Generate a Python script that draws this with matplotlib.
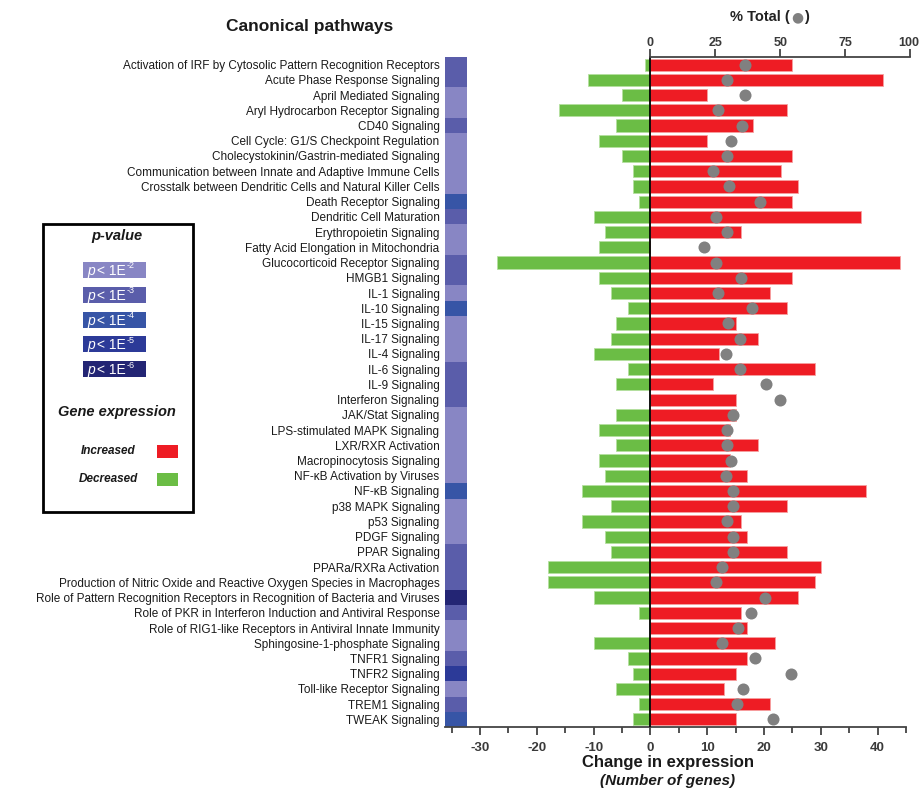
import matplotlib
matplotlib.use("Agg")
import matplotlib.pyplot as plt
from matplotlib.patches import Rectangle
import numpy as np

plt.rcParams['font.family'] = ['Liberation Sans', 'DejaVu Sans']
plt.rcParams['axes.unicode_minus'] = False

pathways = [
    "Activation of IRF by Cytosolic Pattern Recognition Receptors",
    "Acute Phase Response Signaling",
    "April Mediated Signaling",
    "Aryl Hydrocarbon Receptor Signaling",
    "CD40 Signaling",
    "Cell Cycle: G1/S Checkpoint Regulation",
    "Cholecystokinin/Gastrin-mediated Signaling",
    "Communication between Innate and Adaptive Immune Cells",
    "Crosstalk between Dendritic Cells and Natural Killer Cells",
    "Death Receptor Signaling",
    "Dendritic Cell Maturation",
    "Erythropoietin Signaling",
    "Fatty Acid Elongation in Mitochondria",
    "Glucocorticoid Receptor Signaling",
    "HMGB1 Signaling",
    "IL-1 Signaling",
    "IL-10 Signaling",
    "IL-15 Signaling",
    "IL-17 Signaling",
    "IL-4 Signaling",
    "IL-6 Signaling",
    "IL-9 Signaling",
    "Interferon Signaling",
    "JAK/Stat Signaling",
    "LPS-stimulated MAPK Signaling",
    "LXR/RXR Activation",
    "Macropinocytosis Signaling",
    "NF-κB Activation by Viruses",
    "NF-κB Signaling",
    "p38 MAPK Signaling",
    "p53 Signaling",
    "PDGF Signaling",
    "PPAR Signaling",
    "PPARa/RXRa Activation",
    "Production of Nitric Oxide and Reactive Oxygen Species in Macrophages",
    "Role of Pattern Recognition Receptors in Recognition of Bacteria and Viruses",
    "Role of PKR in Interferon Induction and Antiviral Response",
    "Role of RIG1-like Receptors in Antiviral Innate Immunity",
    "Sphingosine-1-phosphate Signaling",
    "TNFR1 Signaling",
    "TNFR2 Signaling",
    "Toll-like Receptor Signaling",
    "TREM1 Signaling",
    "TWEAK Signaling",
]

decreased = [-1, -11, -5, -16, -6, -9, -5, -3, -3, -2, -10, -8, -9, -27, -9, -7, -4, -6, -7, -10, -4, -6,
             0, -6, -9, -6, -9, -8, -12, -7, -12, -8, -7, -18, -18, -10, -2, 0, -10, -4, -3, -6, -2, -3]
increased = [25, 41, 10, 24, 18, 10, 25, 23, 26, 25, 37, 16, 0, 44, 25, 21, 24, 15, 19, 12, 29, 11,
             15, 15, 14, 19, 14, 17, 38, 24, 16, 17, 24, 30, 29, 26, 16, 17, 22, 17, 15, 13, 21, 15]
pct_total = [36.2, 29.5, 36.2, 26, 35.3, 30.9, 29.5, 24, 30.1, 42.3, 25.3, 29.5, 20.5, 25.3, 35, 26,
             39.2, 29.9, 34.6, 29.1, 34.6, 44.5, 49.9, 31.7, 29.5, 29.5, 30.9, 29.1, 31.7, 31.7, 29.5,
             31.7, 31.7, 27.6, 25.3, 44, 38.8, 33.7, 27.6, 40.1, 54, 35.5, 33.3, 47]
# p-value level: 1 -> p<1E-2 ... 5 -> p<1E-6
p_level = [2, 2, 1, 1, 2, 1, 1, 1, 1, 3, 2, 1, 1, 2, 2, 1, 3, 1, 1, 1, 2, 2,
           2, 1, 1, 1, 1, 1, 3, 1, 1, 1, 2, 2, 2, 5, 2, 1, 1, 2, 4, 1, 2, 3]
p_labels = ["-2", "-3", "-4", "-5", "-6"]
p_colors = ["#8886c4", "#5a5daa", "#3755a6", "#2c3a98", "#232574"]
top_ticks = [0, 25, 50, 75, 100]

red = "#ee1c24"
green = "#6bbd45"
dot_grey = "#808080"
tick_col = "#3a3a3a"

fig = plt.figure(figsize=(9.19, 7.88), dpi=100)
ax = fig.add_axes([445 / 919, 1 - 727 / 788, 466 / 919, 670 / 788])

y = np.arange(len(pathways))
xmin, xmax = -36.15, 45.87
k = 0.4577  # change units per % total

ax.barh(y, [3.93] * len(y), left=xmin, height=1.0,
        color=[p_colors[l - 1] for l in p_level], zorder=2)
ax.barh(y, decreased, height=0.8, color=green, edgecolor="#b5e09f", linewidth=0.6, zorder=2)
ax.barh(y, increased, height=0.8, color=red, edgecolor="#f7a0a0", linewidth=0.6, zorder=2)
ax.axvline(0, color="black", lw=1.3, zorder=3)

ax.set_xlim(xmin, xmax)
ax.set_ylim(len(y) - 0.5, -0.5)
ax.set_yticks(y)
ax.set_yticklabels(pathways, fontsize=8.5, color="#1a1a1a")
ax.tick_params(axis="y", length=0, pad=4)
ax.set_xticks(np.arange(-30, 41, 10))
ax.set_xticks(np.arange(-35, 46, 5), minor=True)
ax.tick_params(axis="x", which="both", colors="#333333", width=1.2, labelsize=9.5, pad=5)
ax.tick_params(axis="x", which="major", length=6)
ax.tick_params(axis="x", which="minor", length=4)
for lab in ax.get_xticklabels():
    lab.set_fontweight("bold")
    lab.set_color(tick_col)
for s in ["top", "right", "left"]:
    ax.spines[s].set_visible(False)
ax.spines["bottom"].set_bounds(xmin, 45.0)
ax.spines["bottom"].set_linewidth(1.3)
ax.spines["bottom"].set_color("#444444")

ax2 = ax.twiny()
ax2.set_xlim(xmin / k, xmax / k)
ax2.scatter(pct_total, y, s=75, color=dot_grey, zorder=5, linewidths=0)
ax2.set_ylim(ax.get_ylim())
ax2.set_xticks(top_ticks)
ax2.set_xticklabels([])
ax2.tick_params(axis="x", colors="#333333", width=1.2, length=6)
for t in top_ticks:
    xt = min(t, 99.2)
    ax2.text(xt, 1.021, str(t), transform=ax2.get_xaxis_transform(), ha="center", va="center",
             fontsize=9, fontweight="bold", color=tick_col)
for s in ["bottom", "right", "left"]:
    ax2.spines[s].set_visible(False)
ax2.spines["top"].set_bounds(0, 100)
ax2.spines["top"].set_linewidth(1.3)
ax2.spines["top"].set_color("#444444")

fig.text(790 / 919, 1 - 17 / 788, "% Total (", ha="right", va="center", fontsize=10.5, fontweight="bold", color="#222222")
fig.text(797 / 919, 1 - 17 / 788, "●", ha="center", va="center", fontsize=10, color=dot_grey, family="DejaVu Sans")
fig.text(804 / 919, 1 - 17 / 788, ")", ha="left", va="center", fontsize=10.5, fontweight="bold", color="#222222")

fig.text(310 / 919, 1 - 27 / 788, "Canonical pathways", ha="center", va="center", fontsize=12.5, fontweight="bold", color="#1a1a1a")
fig.text(668 / 919, 1 - 763 / 788, "Change in expression", ha="center", va="center", fontsize=12, fontweight="bold", color="#1a1a1a")
fig.text(668 / 919, 1 - 781 / 788, "(Number of genes)", ha="center", va="center", fontsize=11, fontweight="bold", style="italic", color="#1a1a1a")

# legend box
fig.patches.append(Rectangle((43 / 919, 1 - 512 / 788), 150 / 919, 288 / 788, transform=fig.transFigure,
                             fill=False, edgecolor="black", linewidth=2))
fig.text(117 / 919, 1 - 236 / 788, "p-value", ha="center", va="center", fontsize=10.5, fontweight="bold", style="italic", color="#1a1a1a")
for i, (lab, col) in enumerate(zip(p_labels, p_colors)):
    yc = 270 + i * 24.8
    fig.patches.append(Rectangle((83 / 919, 1 - (yc + 8) / 788), 63 / 919, 16 / 788, transform=fig.transFigure,
                                 facecolor=col, edgecolor="none"))
    fig.text(87 / 919, 1 - (yc + 1) / 788, "p", ha="left", va="center", fontsize=10, style="italic", color="white")
    fig.text(97 / 919, 1 - (yc + 1) / 788, "< 1E", ha="left", va="center", fontsize=10, color="white")
    fig.text(127 / 919, 1 - (yc - 4) / 788, lab, ha="left", va="center", fontsize=6.5, color="white")
fig.text(117 / 919, 1 - 412 / 788, "Gene expression", ha="center", va="center", fontsize=10.5, fontweight="bold", style="italic", color="#1a1a1a")
fig.text(108 / 919, 1 - 451 / 788, "Increased", ha="center", va="center", fontsize=8.5, fontweight="bold", style="italic", color="#1a1a1a")
fig.text(108 / 919, 1 - 479 / 788, "Decreased", ha="center", va="center", fontsize=8.5, fontweight="bold", style="italic", color="#1a1a1a")
fig.patches.append(Rectangle((157 / 919, 1 - 458 / 788), 21 / 919, 13 / 788, transform=fig.transFigure, facecolor=red, edgecolor="none"))
fig.patches.append(Rectangle((157 / 919, 1 - 486 / 788), 21 / 919, 13 / 788, transform=fig.transFigure, facecolor=green, edgecolor="none"))

fig.savefig("out.png", dpi=100)
